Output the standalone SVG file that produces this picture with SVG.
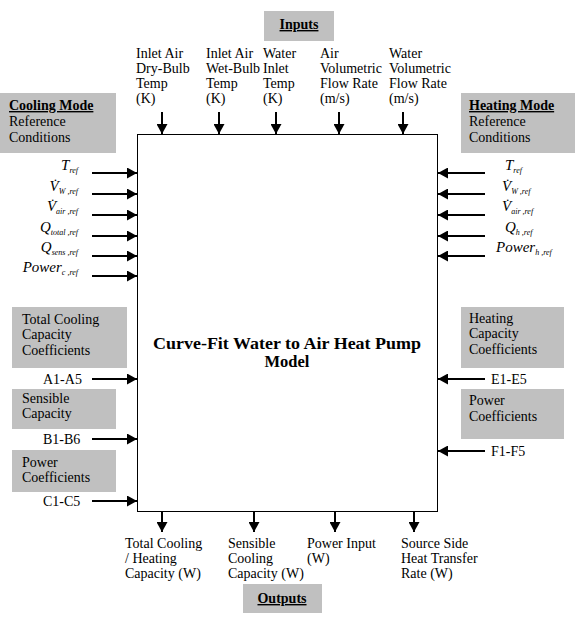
<svg xmlns="http://www.w3.org/2000/svg" width="575" height="625" viewBox="0 0 575 625">
<style>
  text { font-family: "Liberation Serif", "Times New Roman", serif; font-size: 14px; fill: #000; }
  .b { font-weight: bold; }
  .u { text-decoration: underline; }
  .gray { fill: #c0c0c0; stroke: none; }
  .sym { font-style: italic; font-size: 15px; }
  .sub { font-style: italic; font-size: 8px; }
  .conn line { stroke: #000; stroke-width: 2; marker-end: url(#ah); }
</style>
<defs>
  <marker id="ah" markerUnits="userSpaceOnUse" markerWidth="11" markerHeight="11" refX="10" refY="5.5" orient="auto">
    <path d="M0,0 L10,5.5 L0,11 z" fill="#000"/>
  </marker>
</defs>
<rect width="575" height="625" fill="#fff"/>

<g id="model">
  <rect x="137.5" y="134.5" width="300" height="377" fill="#fff" stroke="#000" stroke-width="1"/>
  <text class="b" x="153" y="349" textLength="268" lengthAdjust="spacingAndGlyphs" style="font-size:16.5px">Curve-Fit Water to Air Heat Pump</text>
  <text class="b" x="287" y="367" text-anchor="middle" style="font-size:16.5px">Model</text>
</g>

<g id="inputs-title">
  <rect class="gray" x="264" y="11" width="70" height="30"/>
  <text class="b u" x="299" y="29" text-anchor="middle">Inputs</text>
</g>

<g id="in-dry">
  <text x="136" y="58">Inlet Air</text>
  <text x="136" y="73">Dry-Bulb</text>
  <text x="136" y="88">Temp</text>
  <text x="136" y="103">(K)</text>
</g>
<g id="in-wet">
  <text x="206" y="58">Inlet Air</text>
  <text x="206" y="73">Wet-Bulb</text>
  <text x="206" y="88">Temp</text>
  <text x="206" y="103">(K)</text>
</g>
<g id="in-water">
  <text x="263" y="58">Water</text>
  <text x="263" y="73">Inlet</text>
  <text x="263" y="88">Temp</text>
  <text x="263" y="103">(K)</text>
</g>
<g id="in-airflow">
  <text x="320" y="58">Air</text>
  <text x="320" y="73">Volumetric</text>
  <text x="320" y="88">Flow Rate</text>
  <text x="320" y="103">(m/s)</text>
</g>
<g id="in-waterflow">
  <text x="389" y="58">Water</text>
  <text x="389" y="73">Volumetric</text>
  <text x="389" y="88">Flow Rate</text>
  <text x="389" y="103">(m/s)</text>
</g>

<g id="cooling-mode">
  <rect class="gray" x="0" y="93" width="116" height="60"/>
  <text class="b u" x="9" y="110">Cooling Mode</text>
  <text x="9" y="126">Reference</text>
  <text x="9" y="142">Conditions</text>
</g>
<g id="heating-mode">
  <rect class="gray" x="461" y="93" width="114" height="60"/>
  <text class="b u" x="469" y="110">Heating Mode</text>
  <text x="469" y="126">Reference</text>
  <text x="469" y="142">Conditions</text>
</g>

<g id="cool-refs">
  <text x="78" y="170" text-anchor="end"><tspan class="sym">T</tspan><tspan class="sub" dy="3">ref</tspan></text>
  <text x="78" y="191" text-anchor="end"><tspan class="sym">V̇</tspan><tspan class="sub" dy="3">W ,ref</tspan></text>
  <text x="78" y="211" text-anchor="end"><tspan class="sym">V̇</tspan><tspan class="sub" dy="3">air ,ref</tspan></text>
  <text x="78" y="232" text-anchor="end"><tspan class="sym">Q</tspan><tspan class="sub" dy="3">total ,ref</tspan></text>
  <text x="78" y="252" text-anchor="end"><tspan class="sym">Q</tspan><tspan class="sub" dy="3">sens ,ref</tspan></text>
  <text x="78" y="272" text-anchor="end"><tspan class="sym">Power</tspan><tspan class="sub" dy="3">c ,ref</tspan></text>
</g>
<g id="heat-refs">
  <text x="505" y="170"><tspan class="sym">T</tspan><tspan class="sub" dy="3">ref</tspan></text>
  <text x="502" y="191"><tspan class="sym">V̇</tspan><tspan class="sub" dy="3">W ,ref</tspan></text>
  <text x="502" y="211"><tspan class="sym">V̇</tspan><tspan class="sub" dy="3">air ,ref</tspan></text>
  <text x="505" y="232"><tspan class="sym">Q</tspan><tspan class="sub" dy="3">h ,ref</tspan></text>
  <text x="496" y="252"><tspan class="sym">Power</tspan><tspan class="sub" dy="3">h ,ref</tspan></text>
</g>

<g id="total-cooling-coeff">
  <rect class="gray" x="12" y="307" width="115" height="61"/>
  <text x="22" y="324">Total Cooling</text>
  <text x="22" y="339">Capacity</text>
  <text x="22" y="355">Coefficients</text>
  <text x="43" y="384">A1-A5</text>
</g>
<g id="sensible-capacity">
  <rect class="gray" x="12" y="389" width="104" height="40"/>
  <text x="22" y="403">Sensible</text>
  <text x="22" y="418">Capacity</text>
  <text x="43" y="444">B1-B6</text>
</g>
<g id="cool-power-coeff">
  <rect class="gray" x="12" y="450" width="104" height="42"/>
  <text x="22" y="467">Power</text>
  <text x="22" y="482">Coefficients</text>
  <text x="43" y="506">C1-C5</text>
</g>
<g id="heating-capacity-coeff">
  <rect class="gray" x="461" y="307" width="103" height="61"/>
  <text x="469" y="323">Heating</text>
  <text x="469" y="338">Capacity</text>
  <text x="469" y="354">Coefficients</text>
  <text x="491" y="384">E1-E5</text>
</g>
<g id="heat-power-coeff">
  <rect class="gray" x="461" y="389" width="103" height="50"/>
  <text x="469" y="405">Power</text>
  <text x="469" y="421">Coefficients</text>
  <text x="491" y="456">F1-F5</text>
</g>

<g id="out-total">
  <text x="125" y="548">Total Cooling</text>
  <text x="125" y="563">/ Heating</text>
  <text x="125" y="578">Capacity (W)</text>
</g>
<g id="out-sensible">
  <text x="228" y="548">Sensible</text>
  <text x="228" y="563">Cooling</text>
  <text x="228" y="578">Capacity (W)</text>
</g>
<g id="out-power">
  <text x="307" y="548">Power Input</text>
  <text x="307" y="563">(W)</text>
</g>
<g id="out-source">
  <text x="401" y="548">Source Side</text>
  <text x="401" y="563">Heat Transfer</text>
  <text x="401" y="578">Rate (W)</text>
</g>
<g id="outputs-title">
  <rect class="gray" x="243" y="584" width="79" height="29"/>
  <text class="b u" x="282" y="603" text-anchor="middle">Outputs</text>
</g>

<g id="connectors" class="conn">
  <line x1="162" y1="112" x2="162" y2="134"/>
  <line x1="219" y1="112" x2="219" y2="134"/>
  <line x1="276" y1="112" x2="276" y2="134"/>
  <line x1="339" y1="112" x2="339" y2="134"/>
  <line x1="403" y1="112" x2="403" y2="134"/>

  <line x1="92" y1="173" x2="137" y2="173"/>
  <line x1="92" y1="194" x2="137" y2="194"/>
  <line x1="92" y1="215" x2="137" y2="215"/>
  <line x1="92" y1="236" x2="137" y2="236"/>
  <line x1="92" y1="256" x2="137" y2="256"/>
  <line x1="92" y1="276" x2="137" y2="276"/>

  <line x1="485" y1="173" x2="438" y2="173"/>
  <line x1="485" y1="194" x2="438" y2="194"/>
  <line x1="485" y1="215" x2="438" y2="215"/>
  <line x1="485" y1="236" x2="438" y2="236"/>
  <line x1="485" y1="256" x2="438" y2="256"/>

  <line x1="92" y1="379" x2="137" y2="379"/>
  <line x1="92" y1="439" x2="137" y2="439"/>
  <line x1="92" y1="501" x2="137" y2="501"/>

  <line x1="485" y1="379" x2="438" y2="379"/>
  <line x1="485" y1="451" x2="438" y2="451"/>

  <line x1="162" y1="512" x2="162" y2="532"/>
  <line x1="254" y1="512" x2="254" y2="532"/>
  <line x1="335" y1="512" x2="335" y2="532"/>
  <line x1="414" y1="512" x2="414" y2="532"/>
</g>
</svg>
